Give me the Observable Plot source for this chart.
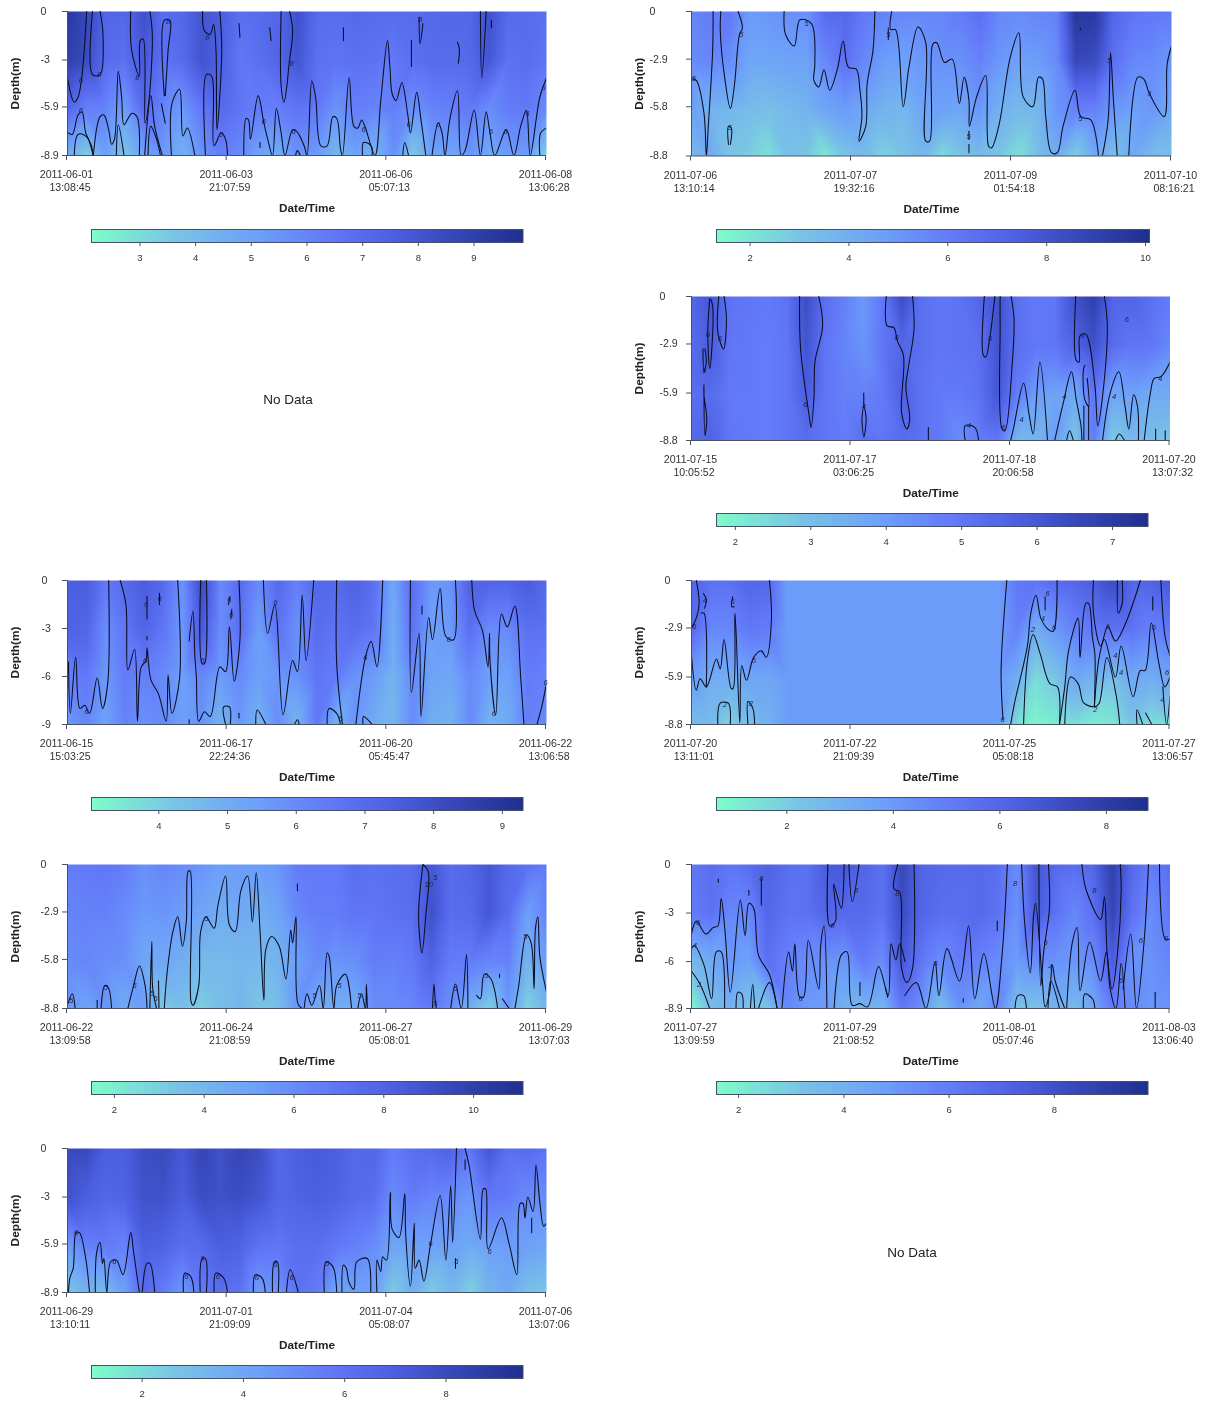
<!DOCTYPE html>
<html><head><meta charset="utf-8">
<script src="https://cdn.jsdelivr.net/npm/d3@7"></script>
<script src="https://cdn.jsdelivr.net/npm/@observablehq/plot@0.6"></script>
<style>
html,body{margin:0;padding:0;background:#fff}
#page{position:relative;width:1209px;height:1401px;overflow:hidden;font-family:"Liberation Sans",Arial,sans-serif}
#page svg{position:absolute;filter:blur(.35px);overflow:visible}
.nodata{position:absolute;font-size:13.5px;color:#222;transform:translate(-50%,-50%);filter:blur(.3px)}
</style></head><body><div id="page"></div>
<script>
// Shared: time position (percent of the panel's window) of the heat columns and depth fractions of the rows
const heatT = [0,4,8,12,16,20,24,28,32,36,40,44,48,52,56,60,64,68,72,76,80,84,88,92,96,100];
const rampStops = [0,.2,.4,.55,.7,.85,1];
const rampColors = ["#7DFDC9","#79C3E6","#6C9CFA","#6279F8","#4C5FE0","#3545B5","#1F2F8E"];

// Panel A 2011-06-01
const datesA=["2011-06-01","2011-06-03","2011-06-06","2011-06-08"], timesA=["13:08:45","21:07:59","05:07:13","13:06:28"];
const depthA=[0,-3,-5.9,-8.9], barA=[2.13,9.88], barTicksA=[3,4,5,6,7,8,9];
const heatA=[
[9.3,8.6,7.3,7.2,8.2,6.9,7.2,8.0,7.6,6.8,7.0,7.2,8.2,7.0,6.9,7.1,7.0,6.9,7.0,7.1,7.2,7.2,8.2,7.0,7.0,6.8],
[9.0,8.4,7.0,6.8,7.8,6.7,7.0,8.0,7.5,6.5,6.8,7.3,8.0,6.8,6.6,6.8,6.7,6.4,6.8,7.0,7.0,7.1,7.9,6.7,6.9,6.6],
[7.2,6.2,6.0,5.2,7.0,6.0,5.3,6.5,7.0,6.6,6.3,6.2,6.6,6.4,5.5,6.2,6.0,6.2,5.6,6.0,6.2,6.4,5.7,6.3,6.4,5.8],
[4.6,3.3,5.0,3.6,5.0,5.3,4.4,5.5,6.2,5.8,5.0,4.6,5.5,5.2,4.2,5.0,4.2,5.6,3.5,5.0,4.8,5.4,4.8,5.2,5.2,3.2]];
const linesA=[
[0,4.1,1.4,5.6,2.2,5.3,3,4,4,0],
[5.2,0,5.2,3.9,6.8,3.9,7.4,1.4,6.8,0],
[13.2,0,13.4,2.4,15,4,15.2,1.8,15.8,1.7,16.2,6.9,17,5.5,17.7,1.4,17.2,0],
[20.2,5.2,20.2,.55,21.4,.55,21,2.4,20.4,5.2],[19.6,5.7,20.4,6.9],
[28.2,0,28.6,1.2,29.8,1.4,30.5,.8,31,2.4,31.2,7.3,32.2,2.4,31.8,0],
[44.6,0,44.6,4.6,45.2,5.6,45.8,4.6,46.2,3.4,47,1.2,46.4,0],
[35.8,.75,36,1.6],[42.2,1,42.5,1.8],[57.6,1,57.6,1.8],[71.8,1.8,71.8,3.4],[73.4,.35,73.6,2,74.2,.75],[81.4,1.9,81.8,2.3,81.6,3.2],[86.2,0,86.5,4.1,87.4,0],[88.5,.55,88.5,1],[40.2,8.1,40.2,8.4],
[.2,7.5,1,7.6,2.2,6.4,3,6.2,3.8,7.5,4.4,7.9,5.4,8.9],
[1.4,8.9,2.2,7.6,3.8,7.7,5,8.3,5.3,8.9],
[5.4,8.9,6.8,6.5,7.6,6.4,8.6,7.3,9.2,8.2,9.8,7.9,10.6,3.7,11.3,5.3,11.8,7,13.4,6.3,14.5,6.5,15,8.9],
[10.2,8.9,10.6,7,11.8,8.9],
[16.1,8.9,17.4,5.2,18.2,7.1,19.8,8.9],[16.8,8.9,17.4,7.1,18.6,7.9,19.4,8.9],
[21.7,8.9,21.8,5.7,23.4,4.8,24.1,7.7,25,7.2,26.6,8.9],
[28.8,8.9,29,3.9,30.1,4,30.6,8.3,32.1,7.5,33,7.9,33.4,8.9],
[36.8,8.9,37.3,6.6,37.8,6.7,38.2,7.9,39.8,5.2,41,6.9,41.8,7.9,42.8,8.9,43.6,6,44.6,7.5,45.4,8.9,47,7.3,47.8,7.4,49.4,8.3,50,8.9,51,4.3,51.8,5.3,52.9,8.3,54.2,8.3,55.4,6.5,56.2,6.6,57,8.5,57.4,8.9,58.8,4.1,59.8,7.1,60.6,7.2,61.4,6.7,62.2,7.2,64.2,8.9,65.4,5.5,66.8,1.8,67.3,3.4,67.8,5.1,68.6,5.5,69.8,4.4,71,6.3,71.6,7.5,72.9,5,73.8,6.7,74.8,8.9],
[76.1,8.9,77.4,6.9,78.2,7.5,78.8,8.9,79.8,6.7,81.4,4.9,82.2,8.9,83,8.6,84.9,6.1,86.2,8.9,87.4,6.2,88.2,7.5,89.2,8.9,91.6,7.3,93.2,8.9,94.6,7.1,95.8,6.1,96.6,8.9,98.6,5.3,100,4.1],
[47.6,8.9,48,8.6,48.6,8.9],[61.6,8.9,61.8,8.1,63.4,8.3,63.6,8.9],[70,8.9,70.4,8.1,71.2,8.9],[98.6,8.9,98.8,7.5,100,7.2]];
const marksA=[[2.8,4.3,"6"],[6.6,3.9,"8"],[2.8,6.1,"6"],[14.6,4.1,"8"],[21,.6,"8"],[29.2,1.6,"8"],[32,7.6,"6"],[41,6.8,"6"],[46.8,3.2,"8"],[47.2,7.4,"6"],[61.8,7.3,"6"],[71.2,7,"6"],[77.4,7,"6"],[88.4,7.4,"6"],[91.4,7.4,"6"],[96,6.3,"6"],[99.4,4.7,"6"],[73.6,.5,"8"]];

// Panel B 2011-07-06
const datesB=["2011-07-06","2011-07-07","2011-07-09","2011-07-10"], timesB=["13:10:14","19:32:16","01:54:18","08:16:21"];
const depthB=[0,-2.9,-5.8,-8.8], barB=[1.32,10.08], barTicksB=[2,4,6,8,10];
const heatB=[
[5.6,6.0,6.2,4.9,5.0,5.3,5.2,6.8,7.0,6.2,5.8,5.6,5.6,5.7,6.0,6.6,5.6,5.4,5.7,5.8,9.6,9.4,7.0,6.4,6.2,6.2],
[5.4,5.6,5.4,4.4,4.4,4.5,4.6,5.6,6.5,5.6,4.8,4.6,5.0,5.2,5.2,5.8,5.0,4.6,4.8,5.4,8.6,8.4,6.5,5.6,5.5,5.0],
[4.6,3.8,3.6,3.4,3.2,3.5,3.8,4.4,4.8,4.2,3.8,3.6,4.4,4.6,4.4,5.0,3.9,3.5,3.6,5.0,5.8,5.8,5.0,4.6,5.0,4.3],
[3.4,4.2,3.0,2.8,2.2,3.2,3.0,2.0,3.0,3.4,2.6,3.0,3.6,2.4,3.0,3.4,3.0,2.2,3.2,4.0,2.6,4.2,3.2,4.2,3.4,3.2]];
const linesB=[
[0,4.1,1,4.2,2.6,6.2,3.1,8.8,3.5,7,4.4,2.4,4.5,0],
[6.1,0,6,1.2,6.9,4,8.1,5.9,8.9,4.6,10,1.4,10.6,1,9.7,0],
[7.7,8.1,7.7,7,8.3,7.1,8.1,8.1],
[19.3,0,19.6,1.4,21.4,2.1,22.6,.5,25,.75,25.7,3.2,25.5,4.2,26.5,4.6,27.6,3.55,28.8,4.8,30.4,3.5,31.6,1.8,32.7,3.4,34.3,3.5,35.1,4.8,35.5,6.4,34.9,7.9,36.3,7,36.6,4.4,37.8,2.4,38.2,0],
[41.7,0,41.5,1.1,42.5,1.1,44.1,5.8,45.3,3.4,47.2,.95,48.8,1.9,48.8,7.9,49.6,7.9,50.3,1.97,51.1,1.9,52.7,3.1,54.3,2.9,55.8,5.6,56.8,4,57.8,5.4,57.9,7,59.4,5.2,61.3,3.9,61.9,8.2,62.5,8.3,64,7,66.4,2.8,68.2,1.3,69.1,5.2,71.1,5.8,72.3,4,73.1,4.1,73.8,6.4,75,8.6,76.2,8.6,77.4,7,79.9,4.8,81.1,6.4,83.2,6.6,84.8,8.8],
[85.6,8.8,86.8,6.6,87.3,2.5,87.9,5.4,88.7,8.8],
[91.1,8.8,93,4,94.2,4.1,95.4,5,98.5,6.4,99.1,3.2,100,2.1],
[41,1,41,1.7],[57.8,7.3,57.8,7.8],[57.8,8.1,57.8,8.6],[81,1,81,1.1]];
const marksB=[[.5,4.1,"5"],[10.4,1.4,"5"],[8,7.1,"5"],[24,.75,"5"],[41,1.4,"5"],[57.7,7.6,"5"],[81,6.5,"5"],[87,3,"5"],[95.4,5,"5"]];

// Panel C 2011-07-15
const datesC=["2011-07-15","2011-07-17","2011-07-18","2011-07-20"], timesC=["10:05:52","03:06:25","20:06:58","13:07:32"];
const depthC=[0,-2.9,-5.9,-8.8], barC=[1.75,7.47], barTicksC=[2,3,4,5,6,7];
const heatC=[
[5.5,6.0,5.1,5.0,4.9,5.1,6.3,5.2,4.7,4.1,5.0,6.4,5.2,5.0,5.1,5.5,6.2,5.2,4.9,5.0,6.2,6.8,5.6,5.6,5.2,4.9],
[5.3,5.8,5.0,4.9,4.8,5.0,6.1,5.0,4.6,4.2,5.0,5.5,5.2,5.0,5.1,5.2,6.1,5.2,4.9,5.0,5.6,6.2,5.3,5.0,5.0,4.5],
[5.2,5.3,4.9,4.9,4.8,5.0,5.8,5.0,4.7,4.7,4.9,5.7,5.1,4.9,4.9,5.1,6.0,4.8,4.0,3.8,3.6,5.0,3.7,3.9,3.6,3.6],
[5.4,5.6,5.0,4.9,4.8,5.0,5.3,5.0,4.8,5.2,5.0,5.3,5.1,4.9,4.4,4.8,5.0,3.3,3.3,4.0,2.8,4.8,2.7,3.2,3.0,2.8]];
const linesC=[
[3.8,.15,3.4,2.2,3.8,4.4,4.2,3.4,4.4,.55,4,.15],
[5.7,0,5.5,2.2,6.7,3.2,7.3,1.4,6.8,0],
[2.4,3.2,2.6,4.6,3.1,4,2.8,3.2],
[2.6,5.4,2.8,8.5,3.2,7.5,2.6,6,2.6,5.4],
[22.6,0,22.8,3.2,24.6,7.3,25,8,25.6,6.1,25.8,4,27.4,1.8,26.6,0],
[36,5.9,36,6.7],[35.6,7.5,36,8.6,36.5,7.5,36,6.7,35.6,7.5],
[40.7,0,40.9,1.8,42.3,1.9,43,2.7,44.3,3.6,43.9,7.1,45,8.1,45.6,7.5,44.8,5.5,45.4,4.2,46.5,2,46.2,0],
[61.2,0,61,3.6,61.5,3.7,62.3,2.6,63.4,0],
[64.5,0,64.5,1.8,64.9,8.1,65.5,8.2,67,4.2,67.4,1.4,66.8,0],
[80.3,0,80.4,3.9,81,4,81.2,2.4,82.4,2.3,84.3,5.4,84.9,7.9,85.9,6.1,86.9,1.8,86.3,0],
[82.2,4.2,81.9,4.5,82.2,6.3,83,6.7,82.7,5],
[82,6.7,82,8.8],[83,6.7,83,8.8],
[66.7,8.8,67.4,7.9,69.4,5.3,70.6,7.3,71.4,8.4,72.8,4,74.4,8.8],
[75.9,8.8,77.7,6.5,79.4,4.6,80.4,6.3,81.4,7.9,81.6,8.8],
[85.9,8.8,87.5,5.9,89.3,4.6,90.6,6.7,91.4,8.1,92.4,6,93.2,6.7,93.4,8.8],
[94.6,8.8,95.9,5.9,96.7,5,98.1,4.9,100,4],
[49.5,8,49.5,8.8],[57.2,8.8,57.2,7.9,59.2,8,60,8.8],
[78.4,8.8,79,8.2,79.8,8.8],[88.6,8.8,89.4,8.4,90.5,8.8],[97,8.8,97,8.1],[99,8.8,99,8.2]];
const marksC=[[3.4,2.3,"6"],[5.9,2.6,"6"],[2.7,4.5,"5"],[23.8,6.6,"6"],[42.9,2.5,"6"],[36,6.7,"4"],[58,7.9,"4"],[62.4,2.6,"6"],[65.2,8,"6"],[69,7.5,"4"],[77.9,6.1,"4"],[81.7,2.4,"6"],[88.3,6.1,"4"],[98,5,"4"],[91,1.4,"6"]];

// Panel D 2011-06-15
const datesD=["2011-06-15","2011-06-17","2011-06-20","2011-06-22"], timesD=["15:03:25","22:24:36","05:45:47","13:06:58"];
const depthD=[0,-3,-6,-9], barD=[3.02,9.3], barTicksD=[4,5,6,7,8,9];
const heatD=[
[7.4,7.5,6.5,7.0,7.5,7.0,5.8,8.2,6.0,7.0,6.0,7.0,6.3,7.1,7.0,7.3,6.8,5.2,6.9,5.6,5.8,7.3,7.2,7.2,7.5,7.0],
[7.3,7.2,5.9,6.6,7.2,6.6,5.6,7.6,5.9,6.8,5.5,6.7,5.8,6.9,6.7,6.9,6.6,5.0,6.7,5.4,5.6,6.8,6.0,6.0,6.8,6.7],
[6.2,6.5,5.6,6.4,6.3,6.0,5.4,6.1,5.5,6.0,5.4,5.7,5.8,6.6,6.4,5.8,5.5,4.8,6.0,5.3,5.2,6.0,5.4,5.4,6.4,6.2],
[5.6,6.1,5.3,6.2,5.8,6.0,5.4,5.8,4.8,5.6,4.8,5.9,4.8,6.5,4.9,5.7,5.0,4.7,6.0,5.0,4.8,6.0,4.8,5.0,6.3,6.0]];
const linesD=[
[.2,5.1,.6,8.3,1.7,4.8,2.6,8,3.6,7.8,4.6,8.3,6.2,6.1,7.3,8,8.4,6.4,8.6,0],
[11,0,12.2,1.5,12.6,5.6,14,4.3,14.6,8.8,15.4,5.4,16.4,5,16.6,4.2,17.4,6.2,19,7.1,20.6,8.8,21,5.9,21.8,8.3,23.4,6.1,23,0],
[16.6,1,16.6,2.4],[16.6,3.5,16.6,3.7],[19.2,.8,19.2,1.5],
[25.4,3.8,26.2,1.9,26.6,4.8,26.9,6,27.4,8.8,28.6,8.2,29.8,8.5,31.8,5.4,33,5.7,33.8,2.9,34.8,6.3,36,3.7,35.8,0],
[27.8,0,28.1,5.2,28.6,5.2,29,0],
[33.9,1,33.6,1.5],[34.3,1.8,34.1,2.4],
[40.9,0,41.8,3.3,43.3,1.5,45,8.4,47,5,48,5.7,49,.9,49.8,5,51.4,0],
[56.2,0,56.2,5.2,57.4,9],
[60.2,9,62.2,4.8,63.4,3.8,64.6,5.4,65.8,0],
[71.6,0,71.8,7,73.4,3.3,73.8,8.5,75.4,2.3,76.2,3.7,77.8,.5,79,3.5,80.6,3.7,81,0],
[74,1.6,74,2.1],
[84.4,0,85,1.9,86.6,3.1,87.8,5.4,88.1,3.3,88.2,5,89.4,8.4,90.6,2.1,91.8,2.9,93.4,1.6,94.6,6,95.3,9],
[98,9,99,7.9,100,6.4],
[33,9,32.6,7.9,33.8,7.9,34,9],[35.8,8.3,35.8,8.6],[39.3,9,39.6,8.1,41.4,9],[47.4,9,48,8.7,48.4,9],[54.2,9,54.6,8,56.2,8.3,57,9],[61.7,9,61.8,8.5,63.6,9],[25.4,8.7,25.4,9]];
const marksD=[[4,8.2,"6"],[16.4,1.5,"6"],[19.2,1.1,"6"],[16.2,5,"6"],[28.2,5,"6"],[33.8,1.2,"6"],[34.2,2.1,"6"],[43.4,1.4,"6"],[62.2,4.8,"6"],[57,8.6,"6"],[79.6,3.7,"6"],[89,8.3,"6"],[99.8,6.4,"6"]];

// Panel E 2011-07-20
const datesE=["2011-07-20","2011-07-22","2011-07-25","2011-07-27"], timesE=["13:11:01","21:09:39","05:08:18","13:06:57"];
const depthE=[0,-2.9,-5.9,-8.8], barE=[.68,8.78], barTicksE=[2,4,6,8];
const heatE=[
[6.0,5.5,5.5,6.0,5.9,3.9,3.9,3.9,3.9,3.9,3.9,3.9,3.9,3.9,3.9,3.9,3.9,5.2,5.4,5.8,6.0,6.4,7.2,6.0,6.2,6.6],
[5.8,4.6,4.6,5.2,5.0,3.9,3.9,3.9,3.9,3.9,3.9,3.9,3.9,3.9,3.9,3.9,3.9,4.8,3.2,4.0,4.8,5.2,5.4,5.4,4.8,5.2],
[3.8,3.2,3.2,3.5,3.5,3.9,3.9,3.9,3.9,3.9,3.9,3.9,3.9,3.9,3.9,3.9,3.9,3.2,1.6,2.2,3.4,3.0,2.4,3.4,3.2,3.6],
[2.6,2.6,1.8,2.5,3.0,3.9,3.9,3.9,3.9,3.9,3.9,3.9,3.9,3.9,3.9,3.9,3.9,1.6,.9,1.1,1.6,1.1,1.3,2.2,1.5,1.6]];
const linesE=[
[0,4.6,1,6.7,1.8,6,3.1,6.5,5.2,4.8,6,5.4,6.8,3.6,8.3,6.6,8.7,6.6,9.1,2,10.1,8.7,10.5,5.2,11.5,6.1,13,4.7,14.6,4.3,15.6,4.7,16.7,2.4,16.3,0],
[1,0,1.6,1.4,1,2.3,0,2.9],[2,2,2.6,2,3.1,6.5],
[2.5,.8,3.1,1.2,2.7,1.7],[8.6,1,8.4,1.6,8.9,1.6],
[5.5,8.8,6,7.5,7.7,7.5,8.1,8.8],[11.8,8.8,11.8,7.4,12.8,7.8,13.2,8.8],
[65.9,0,64.7,5.5,65.1,8.5],
[66.7,8.8,67.5,7.5,70.2,4,70.9,2,72,.9,73,2.3,74.6,3,75.6,3.1,76.4,0],
[69.4,8.8,70.2,4.9,71.4,3.3,72.9,4.5,74.9,6.3,76.5,6.5,76.9,8.8],
[76.9,8.8,78,6.5,78.8,4.3,80.8,2.3,81.2,4.7,82.4,1.4,83,1.4,83.8,3.5,84.3,4.5,84.2,7.7],
[84,0,84,2,85.5,4,87,2.8,88.6,3.7,90.6,2.7,93.8,0],
[89,0,89.2,2,90,1.4,90,0],
[78,8.8,79.2,5.9,80.8,6.3,82,7.5,84.4,7.7,85.2,7.5,86.8,4.7,88.8,7.1,89.5,8.8],
[84.2,7.7,85.2,4.7,86.3,3.6,88.6,5.9,89.8,4,92.3,7.1,93.8,5.5,94.8,5.5,96.1,2.6,97.7,5.1,98.9,6.5,100,5.9],
[98.5,6.5,99.3,8.8,100,7.1],
[93.1,8.8,93.1,7.9,94.3,8.8],[94.9,8.1,96.2,8.8],
[98.1,0,99,3.5,100,4.6],[73.9,1,73.9,1.8],[96.4,1,96.4,1.8]];
const marksE=[[.6,2.8,"6"],[2.8,1.2,"4"],[8.6,1.3,"6"],[13,4.9,"6"],[7,7.6,"2"],[12.4,7.5,"2"],[65,8.5,"6"],[73.4,2.3,"4"],[74.4,.8,"6"],[75.8,2.9,"6"],[71.4,3,"2"],[84.4,7.9,"2"],[87,2.8,"6"],[88.6,4.6,"4"],[89.8,5.6,"4"],[99.4,5.6,"6"],[98.4,7.3,"4"],[96.6,2.9,"6"]];

// Panel F 2011-06-22
const datesF=["2011-06-22","2011-06-24","2011-06-27","2011-06-29"], timesF=["13:09:58","21:08:59","05:08:01","13:07:03"];
const depthF=[0,-2.9,-5.8,-8.8], barF=[1.49,11.1], barTicksF=[2,4,6,8,10];
const heatF=[
[6.6,6.8,6.9,6.6,5.8,6.2,6.0,5.6,5.2,5.4,5.3,5.6,6.6,6.8,6.8,7.4,7.2,7.4,7.5,8.6,7.4,7.8,8.6,7.6,7.2,6.8],
[6.3,6.4,6.4,6.0,5.4,5.6,5.3,4.9,4.5,4.7,4.4,4.9,6.2,6.6,6.6,7.0,7.0,7.2,7.4,9.0,7.4,7.6,8.6,7.4,5.2,6.3],
[6.0,6.2,5.9,5.8,4.8,4.7,4.4,3.9,3.8,4.0,3.9,4.2,5.2,6.0,5.6,5.8,6.6,6.4,6.8,8.0,6.6,6.6,6.2,6.4,4.2,5.2],
[5.6,5.0,5.6,4.6,5.2,3.2,3.6,3.0,3.6,4.0,3.4,3.6,5.6,4.6,4.4,4.6,6.0,6.0,6.2,6.8,5.8,4.4,3.0,5.4,2.8,4.2]];
const linesF=[
[.1,8.5,1,7.9,1.6,8.8],[6.2,8.3,6.2,8.8],
[7,8.8,7.8,7.4,8.5,7.5,9.2,8.8],
[12.6,8.8,13.8,7.4,15,6.2,16.2,7.4,16.6,8.8],
[17.2,8.8,17.6,4.7,17.8,7.6,18.6,8.8],[19,7.1,19.1,8.8],
[20.2,8.8,20.8,6.6,22,4.1,23,3.2,24,5,24.8,3.5,25.2,.4,25.6,.4,25.8,8.4,26.2,8.6,27.4,7.4,27.8,4.1,28.9,3.2,30.6,3.9,31.4,2.5,33,.7,33.8,3.7,35,4.1,36.2,1.6,37.6,.7,38.6,3.5,39.4,.5,40.2,4.1,41,8.3,41.4,5.2,42.6,4.4,44.2,5,45.6,7,46.6,4,47,4.8,47.7,3.2,48.1,8.5,49,8.8],
[49.4,8.8,50,7.9,51,8.6,52.6,7.4,53.4,8.8,54.2,5.4,54.6,5.6,55.6,8.8,56.2,7.4,58,6.7,59.3,8.8],
[60.6,8.8,61.4,7.9,62.2,8.8,62.4,7.3,62.6,8.8],
[74.2,0,73.3,3.1,74,5.4,74.8,3.1,75.3,.4,74.2,0],
[76.2,8.8,76.5,7.3,76.8,8.4,77,8.8],
[80,8.8,81,7.3,82.2,8.8,83.3,5.5,83.6,8.8],
[85.4,8,86.2,8.2,87,6.7,88.4,7,89.8,8.8],[90.8,8.2,92.2,8.8],
[93.4,8.8,94.2,7.4,95.8,4.3,96.8,4.8,97.4,7.6,97.7,3.9,98.2,3.2,98.6,5.6,100,7.8],
[48,1.2,48,1.6],[90.2,6.7,90.2,6.9]];
const marksF=[[.8,8.3,"5"],[8,7.5,"5"],[14,7.4,"5"],[17.6,7.9,"5"],[18.4,8.2,"5"],[29,3.3,"5"],[51.6,8,"5"],[56.8,7.4,"5"],[61,8,"5"],[75.4,1.2,"10"],[76.8,.8,"5"],[76.8,8.5,"5"],[81,7.6,"5"],[87.4,6.8,"5"],[95.6,4.4,"5"]];

// Panel G 2011-07-27
const datesG=["2011-07-27","2011-07-29","2011-08-01","2011-08-03"], timesG=["13:09:59","21:08:52","05:07:46","13:06:40"];
const depthG=[0,-3,-6,-8.9], barG=[1.58,9.78], barTicksG=[2,4,6,8];
const heatG=[
[6.2,6.6,6.3,6.6,7.1,6.6,6.4,7.4,7.6,7.0,6.4,8.4,7.0,6.8,6.7,6.8,6.6,5.4,7.8,6.8,6.6,7.0,8.8,6.8,6.0,6.6],
[6.0,6.4,5.6,5.6,6.9,6.4,6.4,7.0,6.8,6.8,6.4,8.2,7.0,6.6,6.6,6.8,6.4,5.2,7.6,6.4,5.6,6.5,8.5,6.4,5.4,6.2],
[3.6,4.2,5.0,4.6,6.5,5.8,5.4,5.2,5.0,6.0,5.4,7.6,6.2,5.4,6.0,5.8,5.4,4.8,5.4,5.2,5.0,5.4,7.4,5.2,5.2,5.6],
[1.7,3.4,4.0,3.2,3.2,5.6,5.0,4.8,4.0,3.8,3.8,6.2,5.2,3.4,5.2,4.4,5.6,3.2,3.2,4.0,3.6,4.4,6.0,5.4,5.0,5.2]];
const linesG=[
[0,4.3,1,3.5,3,4.3,4.5,3.9,5.5,3.8,6.2,2.1,7,4.1,8.1,7.9,10.2,2.2,11.2,4.4,12,2.4,13,2.7,14,5.6,16.3,6.8,17.9,8.9],
[0,5.2,.6,5,2.6,6.2,4.2,8.3,5.2,5.4,6.2,5.4,6.9,8.9],
[0,6.6,1.8,7.4,3.8,8.9],
[9.3,8.9,9.7,7.9,10.5,8,10.8,8.9],[12.3,8.9,12.8,7.4,13.2,8.9],[14,8.9,16.3,7.3,17.9,8.9],
[18.9,8.9,20.3,5.4,21.1,6.6,21.6,4.9,22.6,8.2,23.4,8.2,24.4,4.7,26.6,7.7,27,5,27.7,3.8,28.3,8.9],
[28.5,0,28.9,3.8,30.1,3.5,29.7,1.2,31.3,2.7,31.9,0],[32.9,0,33.6,2.3,35,0],
[29.8,8.9,31.3,5.6,32.5,5.4,33.6,8.7,35.2,8.6,36.8,8.8,39.1,6.3,41.1,8.1,41.7,4.9,42.7,5.9,43.5,4.9,44.6,6],
[43.1,0,42.3,1.5,43.5,1.7,43.9,6.4,45,7.3,46.2,6.4,46.5,0],
[44.6,8.1,47,7.3,49,8.9,50.9,6,51.7,8.1,53.4,5.2,56,7.2,57.9,3.8,59.2,8.3,61.1,5.5,63.5,8.9,64.9,5.6,66,0],
[69,0,69.6,3.5,70.8,6.7,71.5,3.1,71.9,2.4,73.3,7.1,73.9,8.8,74.8,8,75.4,6.2,76,7.2,78,8.9],
[72.6,0,73,7.5,73.6,5.4,74.8,2.7,74.6,0],
[78.4,8.9,79.6,4.8,80.6,3.9,81.2,7.8,83.2,4.8,85.5,7.2,86.7,5.4,87.5,7.7,88.7,8.9,89.8,6.1,90.6,8.9],
[81.6,0,82.4,1.5,85.5,3.4,86.3,2,86.9,5.6,87.9,7.7,89,5.6,89.8,1.5,89.6,0],
[90.2,7.7,91.8,4.3,93,8.9,94.6,4.7,95.5,0],
[97.8,0,99,4.6,100,4.6],
[63.9,3.5,63.9,4.1],[14.6,.9,14.6,2.5],[96.9,7.9,96.9,8.9],[5.6,.9,5.6,1.1],[12,1.6,12,1.9],
[67.6,8.9,68.2,8.1,69.4,8.1,70,8.9],[74.5,8.9,75.1,7.2,76.9,8.9],[81.9,8.9,82.2,8,83.8,8.3,84.3,8.9],[35.2,7.3,35.2,8.1],[40.5,7.6,41,8.2],[56.8,8.3,56.8,8.5]];
const marksG=[[1.4,3.6,"6"],[.7,5,"4"],[1.6,7.4,"2"],[14.6,.9,"8"],[22.8,8.3,"6"],[29.5,3.8,"8"],[34.4,1.6,"8"],[43,1.8,"8"],[51,6.1,"6"],[67.6,1.2,"8"],[74,4.8,"6"],[75,6.3,"4"],[84.2,1.6,"8"],[93.9,4.7,"6"],[99.2,4.6,"6"],[89.8,7.2,"6"]];

// Panel H 2011-06-29
const datesH=["2011-06-29","2011-07-01","2011-07-04","2011-07-06"], timesH=["13:10:11","21:09:09","05:08:07","13:07:06"];
const depthH=[0,-3,-5.9,-8.9], barH=[1,9.52], barTicksH=[2,4,6,8];
const heatH=[
[8.0,8.0,7.0,7.0,7.8,8.0,7.3,8.2,7.6,8.2,7.8,6.5,7.0,7.2,7.0,6.4,6.6,5.6,6.2,6.4,6.8,5.8,7.4,6.2,6.4,6.0],
[7.6,7.0,6.6,6.8,7.6,7.6,7.0,7.8,7.6,7.8,7.4,6.6,6.8,7.0,6.8,6.4,6.2,5.0,5.6,5.2,5.0,4.6,5.8,5.6,5.0,5.0],
[4.4,5.4,5.6,5.3,7.0,6.8,6.2,6.4,7.0,6.8,6.0,5.8,6.2,6.2,5.8,5.4,5.0,4.0,4.2,4.2,4.2,3.8,4.2,4.4,4.2,4.0],
[2.6,3.4,3.0,4.2,6.4,5.6,4.6,5.6,6.2,6.0,4.4,4.6,6.0,5.6,4.0,4.2,4.2,2.4,3.6,2.4,3.2,2.2,3.4,3.8,2.8,2.6]];
const linesH=[
[.2,8.9,.5,8,1.2,7.4,1.8,5.2,2.5,5.2,3.8,6.8,4.6,8.9],
[5.8,8.9,6.1,6.4,6.8,5.8,7.3,7.1,7.6,6.8,8.2,8.9,9,7,10.2,6.9,11.6,7.8,13.2,5.2,13.8,6.4,15,8.9],
[15.6,8.9,16.6,7.1,17.2,7.1,18.2,8.9],
[24.2,8.9,24.5,7.7,25.7,7.9,26.4,8.9],[27.7,8.9,28.1,6.8,28.8,6.8,29,8.9],
[30.6,8.9,31,7.7,32.6,8,33.4,8.9],[38.8,8.9,39.2,7.8,40.6,8,41.3,8.9],
[42.8,8.9,43.2,7,43.8,7,44,8.9],[45.7,8.9,46.5,7.5,48.2,8.9],
[53.6,8.9,54,7,55.4,7.3,56.2,8.9],
[57.3,8.9,57.6,7.2,58.2,7.4,58.8,8.3,59.8,8.7,60.4,7,62.6,6.8,63.3,8.9],
[64.6,8.9,64.6,6.9,65.4,7.6,65.8,6.7,66.6,6.9,67.4,2.7,67.8,5,69.2,5.5,70.4,2.8,70.6,5.3,71.6,8.5,72.4,4.6,72.6,7.4,73.4,6.9,74.4,8.2,75.8,5.9,77.8,2.9,79,6.9,80,2.3,80.4,5.8,81.2,0],
[83,0,83.8,1,86.2,5.6,86.8,2.5,87.3,2.5,87.8,6.2,90.6,4.3,92.2,5.9,93.8,7.8,94.5,3.4,95.1,3.4,95.5,4.3,96.1,3,97.2,3.9,97.8,1,98.6,3.3,99.4,4.8,100,4.6],
[83,.7,83,1.3],[81,6.8,81,7.4],[96.9,4.3,96.9,5.2]];
const marksH=[[1.8,5.2,"6"],[9.8,7,"6"],[24.8,7.9,"6"],[28.2,6.8,"6"],[31.4,7.9,"6"],[39.5,8,"6"],[43.4,7.2,"6"],[46.8,8,"6"],[54.2,7.1,"6"],[75.8,5.9,"6"],[81.2,7,"6"],[88.1,6.4,"6"]];

const panels=[
 {id:"A",l:67,r:546,t:11,b:155,bl:91,br:522.5,bt:228.5,bb:241.5,yo:27,dates:datesA,times:timesA,depth:depthA,bar:barA,barTicks:barTicksA,heat:heatA,lines:linesA,marks:marksA},
 {id:"B",l:691,r:1171,t:11,b:155.5,bl:715.5,br:1148.5,bt:228.5,bb:241.5,yo:42,dates:datesB,times:timesB,depth:depthB,bar:barB,barTicks:barTicksB,heat:heatB,lines:linesB,marks:marksB},
 {id:"C",l:691,r:1169.5,t:296,b:440,bl:715.5,br:1147,bt:512.7,bb:525.7,yo:32,dates:datesC,times:timesC,depth:depthC,bar:barC,barTicks:barTicksC,heat:heatC,lines:linesC,marks:marksC},
 {id:"D",l:67,r:546,t:580,b:724,bl:91,br:522.5,bt:796.7,bb:809.7,yo:26,dates:datesD,times:timesD,depth:depthD,bar:barD,barTicks:barTicksD,heat:heatD,lines:linesD,marks:marksD},
 {id:"E",l:691,r:1169.5,t:580,b:724,bl:715.5,br:1147,bt:796.7,bb:809.7,yo:27,dates:datesE,times:timesE,depth:depthE,bar:barE,barTicks:barTicksE,heat:heatE,lines:linesE,marks:marksE},
 {id:"F",l:67,r:546,t:864,b:1008,bl:91,br:522.5,bt:1080.7,bb:1093.7,yo:27,dates:datesF,times:timesF,depth:depthF,bar:barF,barTicks:barTicksF,heat:heatF,lines:linesF,marks:marksF},
 {id:"G",l:691,r:1169.5,t:864,b:1008,bl:715.5,br:1147,bt:1080.7,bb:1093.7,yo:27,dates:datesG,times:timesG,depth:depthG,bar:barG,barTicks:barTicksG,heat:heatG,lines:linesG,marks:marksG},
 {id:"H",l:67,r:546,t:1148,b:1292,bl:91,br:522.5,bt:1365,bb:1378,yo:27,dates:datesH,times:timesH,depth:depthH,bar:barH,barTicks:barTicksH,heat:heatH,lines:linesH,marks:marksH}
];
const noData=[{text:"No Data",x:288,y:399},{text:"No Data",x:912,y:1252}];

const page=document.getElementById("page");
const place=(svg,left,top)=>{svg.style.left=left+"px";svg.style.top=top+"px";page.appendChild(svg);};
const colorOf=([lo,hi])=>({type:"linear",domain:rampStops.map(f=>lo+f*(hi-lo)),range:rampColors,interpolate:"rgb",clamp:true});
const ink="#333";

for(const p of panels){
  const dmax=-p.depth[3];
  const rowDepths=[0,3,6,dmax];
  const cells=[];
  p.heat.forEach((row,i)=>row.forEach((v,j)=>cells.push({t:heatT[j],y:-rowDepths[i],v})));
  const pts=[];
  p.lines.forEach((a,k)=>{for(let i=0;i<a.length;i+=2)pts.push({t:a[i],y:-a[i+1],k});});
  const xT=[0,100/3,200/3,100];
  const dateOf=new Map(xT.map((x,i)=>[x,p.dates[i]])), timeOf=new Map(xT.map((x,i)=>[x,p.times[i]]));
  const mL=60,mR=40,mT=2,mB=66;
  const h=Plot.plot({
    width:p.r-p.l+mL+mR,height:p.b-p.t+mT+mB,marginLeft:mL,marginRight:mR,marginTop:mT,marginBottom:mB,
    style:{fontFamily:"Liberation Sans, Arial, sans-serif",fontSize:"10.6px",color:ink,background:"transparent"},
    x:{domain:[0,100]},y:{domain:[-dmax,0]},color:colorOf(p.bar),
    marks:[
      Plot.raster(cells,{x:"t",y:"y",fill:"v",interpolate:"barycentric",pixelSize:1}),
      Plot.line(pts,{x:"t",y:"y",z:"k",stroke:"#0a0d22",strokeWidth:1.05,curve:"catmull-rom",clip:true}),
      Plot.text(p.marks,{x:d=>d[0],y:d=>-d[1],text:d=>d[2],fontSize:7.5,fontStyle:"italic",fill:"#1b2040",stroke:"none"}),
      Plot.ruleX([0],{stroke:"#4a5260"}),
      Plot.ruleY([-dmax],{stroke:"#4a5260"}),
      Plot.axisX(xT,{label:null,tickSize:5,tickPadding:10,dx:-1,stroke:"#4a5260",tickFormat:d=>dateOf.get(d),fill:ink}),
      Plot.axisX(xT,{label:null,tickSize:0,tickPadding:28,dx:2.5,tickFormat:d=>timeOf.get(d),fill:ink}),
      Plot.axisY(p.depth,{label:null,tickSize:5,tickPadding:p.yo-5,textAnchor:"start",stroke:"#4a5260",tickFormat:d=>String(d),fill:ink}),
      Plot.text(["Depth(m)"],{frameAnchor:"left",textAnchor:"middle",lineAnchor:"middle",dx:-52,rotate:-90,fontWeight:"bold",fontSize:11.8,fill:"#222"}),
      Plot.text(["Date/Time"],{frameAnchor:"bottom",textAnchor:"middle",lineAnchor:"middle",dy:53,fontWeight:"bold",fontSize:11.8,fill:"#222"})
    ]
  });
  place(h,p.l-mL,p.t-mT);

  const bL=14,bR=14,bT=2,bB=28;
  const c=Plot.plot({
    width:p.br-p.bl+bL+bR,height:p.bb-p.bt+bT+bB,marginLeft:bL,marginRight:bR,marginTop:bT,marginBottom:bB,
    style:{fontFamily:"Liberation Sans, Arial, sans-serif",fontSize:"9.5px",color:ink,background:"transparent"},
    x:{domain:p.bar},y:{domain:[0,1],axis:null},color:colorOf(p.bar),
    marks:[
      Plot.raster({x1:p.bar[0],x2:p.bar[1],y1:0,y2:1,fill:(x,y)=>x,pixelSize:1}),
      Plot.frame({stroke:"#47506a"}),
      Plot.axisX(p.barTicks,{label:null,tickSize:4,tickPadding:8,stroke:"#47506a",tickFormat:d=>String(d),fill:ink})
    ]
  });
  place(c,p.bl-bL,p.bt-bT);
}
for(const n of noData){
  const d=document.createElement("div");d.className="nodata";d.textContent=n.text;d.style.left=n.x+"px";d.style.top=n.y+"px";page.appendChild(d);
}
</script></body></html>
